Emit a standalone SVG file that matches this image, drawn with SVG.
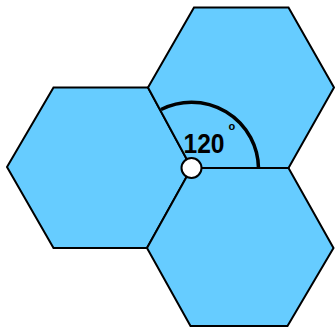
<svg xmlns="http://www.w3.org/2000/svg" width="335" height="327" viewBox="0 0 335 327">
<style>
.hex{fill:#66CCFF;stroke:#000;stroke-width:2;stroke-linejoin:miter}
.lbl{font-family:"Liberation Sans",Arial,sans-serif;font-weight:bold;fill:#000}
</style>
<rect width="335" height="327" fill="#fff"/>
<g id="hex-left"><polygon class="hex" points="7,167 53.5,87.5 148,87.5 191.5,168 147,248 53.5,248"/></g>
<g id="hex-top"><polygon class="hex" points="148,87.5 194,7.5 288.5,7.5 334,87.5 288.5,168 191.5,168"/></g>
<g id="hex-bottom"><polygon class="hex" points="147,248 191.5,168 288.5,168 333.5,248 287.5,326 190.5,326"/></g>
<g id="angle">
<path d="M 161 109.5 A 67 67 0 0 1 258.5 168" fill="none" stroke="#000" stroke-width="3.5"/>
<text class="lbl" x="183.5" y="153" font-size="27.5" textLength="41" lengthAdjust="spacingAndGlyphs">120</text>
<text class="lbl" x="228.5" y="130" font-size="11">o</text>
</g>
<g id="vertex"><circle cx="191.5" cy="168" r="10" fill="#fff" stroke="#000" stroke-width="2"/></g>
</svg>
